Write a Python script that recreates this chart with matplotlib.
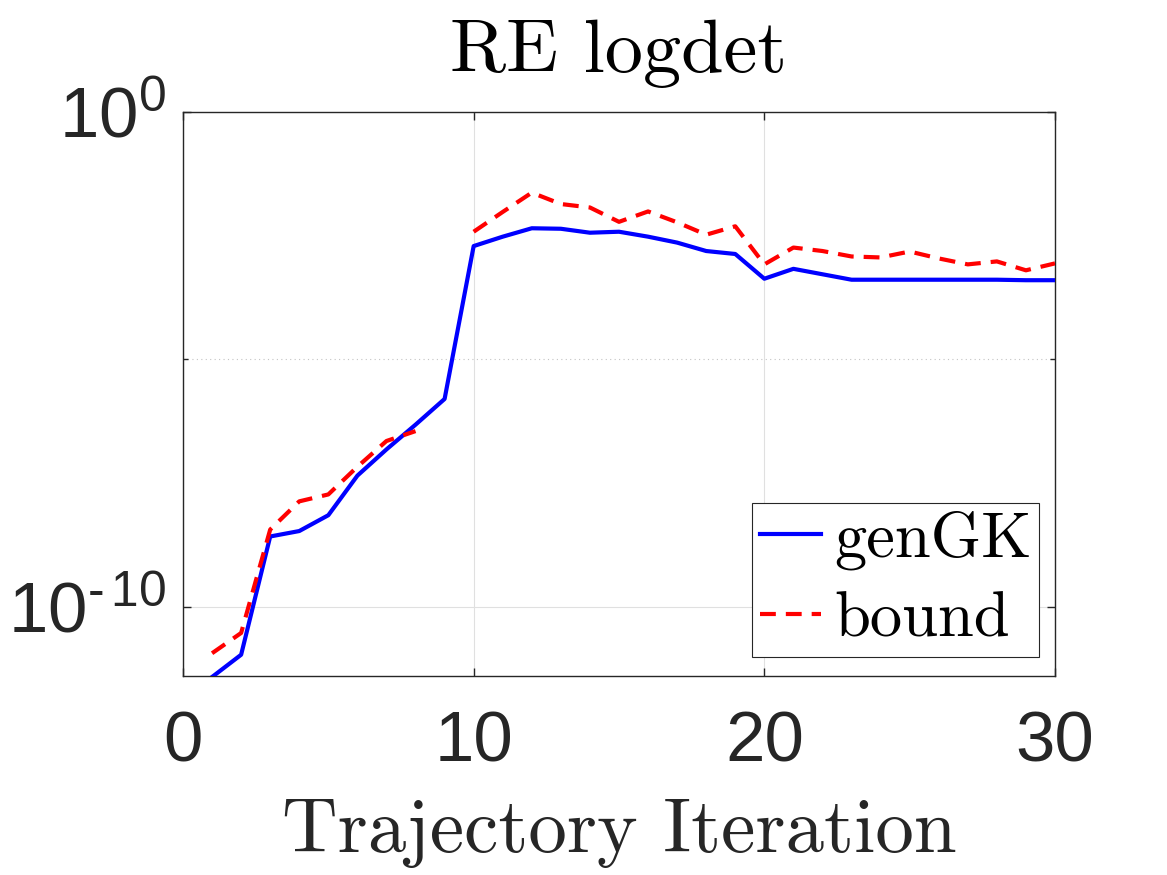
import numpy as np
import matplotlib
matplotlib.use("Agg")
import matplotlib.pyplot as plt
from matplotlib.ticker import FixedLocator, NullFormatter, FuncFormatter

plt.rcParams['font.family'] = ['Liberation Sans', 'DejaVu Sans']
plt.rcParams['mathtext.fontset'] = 'custom'
plt.rcParams['mathtext.rm'] = 'Liberation Sans'
plt.rcParams['mathtext.it'] = 'Liberation Sans:italic'
plt.rcParams['mathtext.bf'] = 'Liberation Sans:bold'
plt.rcParams['mathtext.default'] = 'regular'
plt.rcParams['axes.unicode_minus'] = False

# ---- data (log10 values) ----
iterations = list(range(1, 31))
gengk_log10 = [-11.42, -10.97, -8.58, -8.47, -8.15, -7.35, -6.82, -6.32, -5.80, -2.71,
               -2.52, -2.35, -2.36, -2.44, -2.42, -2.52, -2.64, -2.81, -2.87, -3.37,
               -3.17, -3.28, -3.39, -3.39, -3.39, -3.39, -3.39, -3.39, -3.40, -3.40]
bound_log10 = [-10.94, -10.53, -8.44, -7.87, -7.73, -7.17, -6.65, -6.45, np.nan, -2.42,
               -2.02, -1.63, -1.86, -1.93, -2.22, -2.01, -2.23, -2.48, -2.31, -3.08,
               -2.74, -2.81, -2.92, -2.94, -2.82, -2.96, -3.08, -3.02, -3.20, -3.06]
series_names = ["genGK", "bound"]
title_text = "RE logdet"
xlabel_text = "Trajectory Iteration"
xticks = [0, 10, 20, 30]
yticks = [1e-10, 1e0]
yminor = [1e-5]

gengk = 10.0 ** np.array(gengk_log10)
bound = 10.0 ** np.array(bound_log10)


def log_label(v, pos):
    e = int(round(np.log10(v)))
    if e < 0:
        return r'$\mathdefault{10^{\text{-}\,%d}}$' % (-e)
    return r'$\mathdefault{10^{%d}}$' % e


fig = plt.figure(figsize=(11.67, 8.75), dpi=100)
ax = fig.add_axes([183/1167, 1 - 676/875, (1055-183)/1167, (676-112)/875])

dark = '#262626'
ax.plot(iterations, gengk, color='#0000ff', lw=3.0, label=series_names[0], zorder=3)
ax.plot(iterations, bound, color='#ff0000', lw=3.0, ls=(0, (3.8, 2.4)), label=series_names[1], zorder=3)

ax.set_yscale('log')
ax.set_xlim(0, 30)
ax.set_ylim(10**-11.4, 1.0)
ax.set_xticks(xticks)
ax.yaxis.set_major_locator(FixedLocator(yticks))
ax.yaxis.set_major_formatter(FuncFormatter(log_label))
ax.yaxis.set_minor_locator(FixedLocator(yminor))
ax.yaxis.set_minor_formatter(NullFormatter())

ax.grid(True, which='major', color='#e0e0e0', lw=0.8)
ax.grid(True, which='minor', axis='y', color='#c4c4c4', lw=0.8, ls=(0, (1, 3)))
ax.set_axisbelow(True)

for s in ax.spines.values():
    s.set_color(dark)
    s.set_linewidth(1.0)

ax.tick_params(which='both', direction='in', top=True, right=True, color=dark, width=1.0)
ax.tick_params(which='major', length=5.8, labelsize=51, labelcolor=dark)
ax.tick_params(which='minor', length=3.6)
ax.tick_params(axis='x', pad=25)
ax.tick_params(axis='y', pad=12)

ax.set_title(title_text, fontfamily='cmr10', fontsize=55, pad=29)
ax.set_xlabel(xlabel_text, fontfamily='cmr10', fontsize=55.5, labelpad=16, color='#262626')

leg = ax.legend(loc='lower right', bbox_to_anchor=(0.9817, 0.0337), borderaxespad=0,
                prop={'family': 'cmr10', 'size': 46.5}, handlelength=0.95, handletextpad=0.2,
                borderpad=0.12, labelspacing=0.32, fancybox=False, framealpha=1)
leg.get_frame().set_edgecolor(dark)
leg.get_frame().set_linewidth(0.8)

fig.savefig('out.png', dpi=100)
